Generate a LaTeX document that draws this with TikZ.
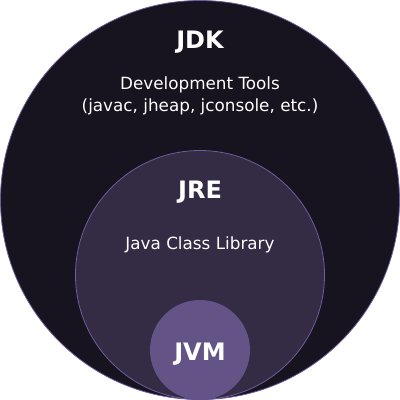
\documentclass[tikz,border=0pt]{standalone}
\usepackage{fontspec}
\setmainfont{DejaVu Sans}
\definecolor{jdkfill}{HTML}{17141F}
\definecolor{jrefill}{HTML}{342B44}
\definecolor{jvmfill}{HTML}{645387}
\definecolor{ringline}{HTML}{6E5C9E}
\begin{document}
\begin{tikzpicture}[x=1pt,y=-1pt,
  ring/.style={circle,draw=ringline,line width=0.8pt,inner sep=0pt},
  title/.style={text=white,font=\fontsize{24}{28}\selectfont\bfseries},
  body/.style={text=white,font=\fontsize{16.8}{22}\selectfont,align=center}]
\useasboundingbox (0,0) rectangle (400,400);
\node[ring,fill=jdkfill,minimum size=399pt] (jdk) at (200,200) {};
\node[ring,fill=jrefill,minimum size=249pt] (jre) at (200,275) {};
\node[circle,fill=jvmfill,inner sep=0pt,minimum size=100pt] (jvm) at (200,350) {};
\node[title] (jdkt) at (200,42) {JDK};
\node[body] (tools) at (200,96) {Development Tools\\(javac, jheap, jconsole, etc.)};
\node[title] (jret) at (200,192) {JRE};
\node[body] (lib) at (200,245) {Java Class Library};
\node[title] (jvmt) at (200,354) {JVM};
\end{tikzpicture}
\end{document}
